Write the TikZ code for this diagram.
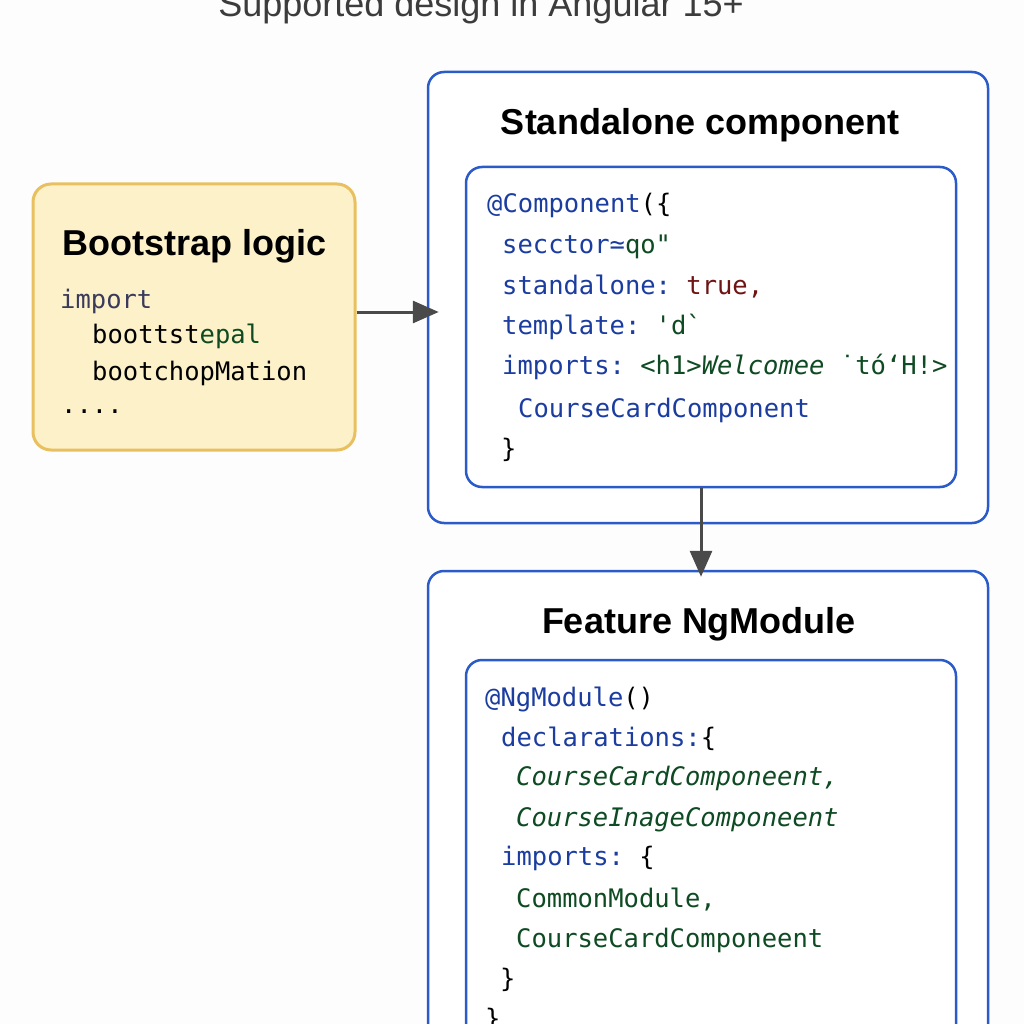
\documentclass[tikz,border=0pt]{standalone}
\usepackage{fontspec}
\setmainfont{Liberation Sans}
\setmonofont{DejaVu Sans Mono}
\usetikzlibrary{arrows.meta}
\definecolor{bgc}{HTML}{FDFDFD}
\definecolor{kw}{HTML}{1C3DA0}
\definecolor{str}{HTML}{0E4A22}
\definecolor{rd}{HTML}{6E1414}
\definecolor{slate}{HTML}{3A3A5C}
\definecolor{boxblue}{HTML}{2A5BC8}
\definecolor{yfill}{HTML}{FCF1C8}
\definecolor{yline}{HTML}{E9C060}
\definecolor{arrowgray}{HTML}{4A4A4A}
\definecolor{titlegray}{HTML}{3C3C3C}
\begin{document}
\begin{tikzpicture}[x=1pt,y=-1pt,
  outerbox/.style={draw=boxblue, line width=2.5pt, rounded corners=16pt, fill=white, inner sep=0pt},
  innerbox/.style={draw=boxblue, line width=2.5pt, rounded corners=16pt, fill=white!97!blue!2, inner sep=0pt},
  bootbox/.style={draw=yline, line width=3pt, rounded corners=18pt, fill=yfill, inner sep=0pt},
  head/.style={inner sep=0pt, font=\bfseries\fontsize{36}{40}\selectfont, text=black},
  code/.style={anchor=base west, inner sep=0pt, font=\ttfamily\fontsize{25.5}{30}\selectfont, text=black},
  arr/.style={draw=arrowgray, line width=3pt, -{Triangle[length=26pt,width=22pt]}}
]
\useasboundingbox (0,0) rectangle (1024,1024);
\fill[bgc] (0,0) rectangle (1024,1024);

% title
\node[anchor=base, inner sep=0pt, font=\fontsize{36}{40}\selectfont, text=titlegray] (title) at (481,17) {Supported design in Angular 15+};

% boxes
\node[bootbox, minimum width=322pt, minimum height=266pt] (boot) at (194,317) {};
\node[outerbox, minimum width=560pt, minimum height=451pt] (sa) at (708,297.5) {};
\node[innerbox, minimum width=490pt, minimum height=320pt] (sain) at (711,327) {};
\node[outerbox, minimum width=560pt, minimum height=500pt] (fm) at (708,821) {};
\node[innerbox, minimum width=490pt, minimum height=400pt] (fmin) at (711,860) {};

% headings
\node[head, anchor=base west] (booth) at (62,255) {Bootstrap logic};
\node[head, anchor=base] (sah) at (700,135) {Standalone component};
\node[head, anchor=base] (fmh) at (699,633) {Feature NgModule};

% bootstrap code
\node[code, text=slate] (b1) at (60,308) {import};
\node[code] (b2) at (92,343) {boottst\textcolor{str}{epal}};
\node[code] (b3) at (92,380) {bootchopMation};
\node[code] (b4) at (61,413) {....};

% standalone code
\node[code, text=kw] (s1) at (487,213) {@Component\textcolor{black}{(\{}};
\node[code, text=kw] (s2) at (502,253) {secctor≃\textcolor{str}{qo"}};
\node[code, text=kw] (s3) at (502,294) {standalone: \textcolor{rd}{true,}};
\node[code, text=kw] (s4) at (502,334) {template: \textcolor{str}{'d`}};
\node[code, text=kw] (s5) at (502,374) {imports: \textcolor{str}{<h1>\textit{Welcomee} ˙tó‘H!>}};
\node[code, text=kw] (s6) at (518,417) {CourseCardComponent};
\node[code] (s7) at (501,457) {\}};

% feature code
\node[code, text=kw] (f1) at (485,706) {@NgModule\textcolor{black}{()}};
\node[code, text=kw] (f2) at (501,746) {declarations:\textcolor{black}{\{}};
\node[code, text=str] (f3) at (516,785) {\textit{CourseCardComponeent,}};
\node[code, text=str] (f4) at (516,826) {\textit{CourseInageComponeent}};
\node[code, text=kw] (f5) at (501,865) {imports: \textcolor{black}{\{}};
\node[code, text=str] (f6) at (516,907) {CommonModule,};
\node[code, text=str] (f7) at (516,947) {CourseCardComponeent};
\node[code] (f8) at (500,987) {\}};
\node[code] (f9) at (485,1027) {\}};

% connectors
\draw[arr, shorten >=-12pt] ([yshift=5pt]boot.east) -- ([yshift=5pt]boot.east -| sa.west);
\draw[arr, shorten >=-7pt] ([xshift=-10pt]sain.south) -- ([xshift=-10pt]sain.south |- fm.north);
\end{tikzpicture}
\end{document}
